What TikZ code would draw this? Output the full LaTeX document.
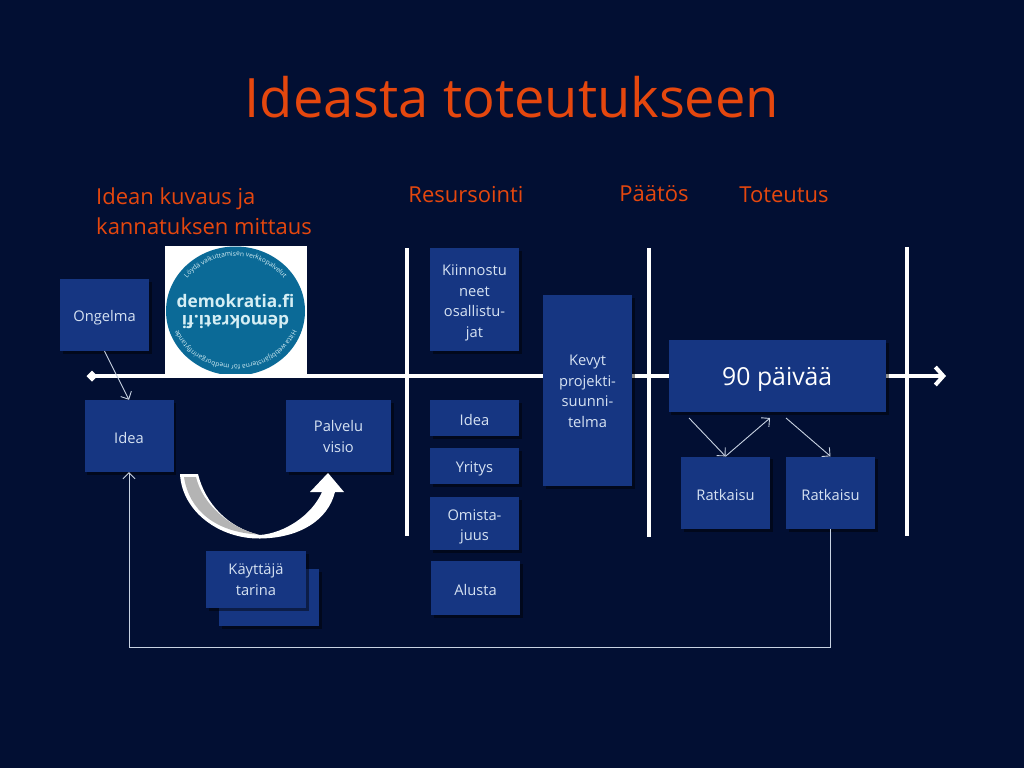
\documentclass[tikz,border=0pt]{standalone}
\usepackage{fontspec}
\setmainfont{Open Sans}
\newfontfamily\logofont{Open Sans}
\usepackage{xcolor}
\usetikzlibrary{arrows.meta,shadows,shapes.geometric,decorations.text}

\definecolor{bgcol}{HTML}{020F33}
\definecolor{boxcol}{HTML}{163682}
\definecolor{textcol}{HTML}{D6E2F2}
\definecolor{titlecol}{HTML}{E5470E}
\definecolor{linkcol}{HTML}{C8D2E2}
\definecolor{logocol}{HTML}{0B6A97}
\definecolor{logotext}{HTML}{D5EEF4}
\definecolor{bandcol}{HTML}{B4B4B4}

\newcommand{\boxlines}[2]{\begin{tabular}{@{}c@{}}\rule{0pt}{#1}#2\end{tabular}}

\begin{document}
\begin{tikzpicture}[x=1pt,y=-1pt,
  box/.style={fill=boxcol, text=textcol, inner sep=0pt, align=center, font=\fontsize{14.7}{20.5}\selectfont,
    execute at begin node={\rule{0pt}{16pt}},
    minimum width=89pt, drop shadow={shadow xshift=2.5pt, shadow yshift=-2.5pt, fill=black, opacity=0.45}},
  lift/.style={execute at begin node={\rule{0pt}{#1}}},
  heading/.style={text=titlecol, align=left, inner sep=0pt, font=\fontsize{22}{30}\selectfont},
  axis/.style={draw=white, line width=4pt},
  link/.style={draw=linkcol, line width=0.9pt, -{Straight Barb[length=6pt,width=12pt]}},
  arcword/.style={decorate, decoration={text along path, text align=center,
    text={|\logofont\fontsize{6.6}{7}\selectfont\color{logotext}|#1}}}]

\fill[bgcol] (0,0) rectangle (1024,768);
\useasboundingbox (0,0) rectangle (1024,768);

% headings
\node[text=titlecol, inner sep=0pt, font=\fontsize{54.3}{60}\selectfont] (title) at (512,97) {Ideasta toteutukseen};
\node[heading, anchor=west] (h1) at (96,211) {Idean kuvaus ja\\kannatuksen mittaus};
\node[heading] (h2) at (466,195) {Resursointi};
\node[heading] (h3) at (654,194) {Päätös};
\node[heading] (h4) at (784,195) {Toteutus};

% logo
\node[fill=white, minimum width=142pt, minimum height=130pt, inner sep=0pt] (logo) at (236,311) {};
\node[ellipse, fill=logocol, minimum width=139pt, minimum height=129pt, inner sep=0pt] (disc) at (235.5,311) {};
\node[text=logotext, inner sep=0pt, font=\logofont\bfseries\fontsize{17.3}{20}\selectfont] (logo1) at (235.5,301) {demokratia.fi};
\node[text=logotext, inner sep=0pt, rotate=180, font=\logofont\bfseries\fontsize{17.3}{20}\selectfont] (logo2) at (235.5,322) {demokrati.fi};
\path[arcword={Löydä vaikuttamisen verkkopalvelut}] (235.5,311) ++(205:60 and 55) arc[start angle=205, end angle=335, x radius=60, y radius=55];
\path[arcword={Hitta webbtjänsterna för medborgarinflytande}] (235.5,311) ++(8:61 and 54) arc[start angle=8, end angle=172, x radius=61, y radius=54];

% time line
\coordinate (s) at (92,376);
\coordinate (e) at (946,376);
\draw[axis, {Diamond[length=11pt,width=11pt,sep=-5.5pt]}-{Straight Barb[length=8pt,width=18pt]}] (s) -- (e);

\coordinate (v1a) at (407,248);
\coordinate (v1b) at (407,536);
\coordinate (v2a) at (649,248);
\coordinate (v2b) at (649,537);
\coordinate (v3a) at (907,247);
\coordinate (v3b) at (907,536);
\draw[axis] (v1a) -- (v1b);
\draw[axis] (v2a) -- (v2b);
\draw[axis] (v3a) -- (v3b);

% left part
\node[box, minimum height=72pt] (ongelma) at (104.5,315) {Ongelma};
\node[box, minimum height=72pt] (idea) at (129,436) {Idea};
\node[box, minimum width=105pt, minimum height=72pt] (visio) at (338.5,436) {\boxlines{18.4pt}{Palvelu\\visio}};
\node[box, minimum width=100pt, minimum height=57pt] (tarinab) at (269,597.5) {};
\node[box, minimum width=100pt, minimum height=57pt] (tarina) at (256,579.5) {\boxlines{17.4pt}{Käyttäjä\\tarina}};

% bent arrow
\fill[white] (180,474) .. controls (182,512) and (220,539) .. (260,538.5)
  .. controls (300,538) and (328,520) .. (335,492) -- (344,492) -- (328,473) -- (310,492) -- (322,492)
  .. controls (312,515) and (285,533) .. (260,535)
  .. controls (228,528) and (205,503) .. (198,474) -- cycle;
\fill[bandcol] (184,477) -- (196,477) .. controls (202,503) and (228,527) .. (258,534.5)
  .. controls (215,532) and (189,510) .. (184,477) -- cycle;

% middle part
\node[box, minimum height=103pt] (kiinn) at (474.5,299.5) {\boxlines{20.4pt}{Kiinnostu\\neet\\osallistu-\\jat}};
\node[box, minimum height=36pt] (idea2) at (474.5,418) {Idea};
\node[box, minimum height=36pt] (yritys) at (474.5,466) {Yritys};
\node[box, minimum height=53pt] (omist) at (474.5,523.5) {\boxlines{20.4pt}{Omista-\\juus}};
\node[box, minimum height=54pt] (alusta) at (475.5,588) {Alusta};
\node[box, minimum height=191pt] (kevyt) at (587.5,390.5) {\boxlines{18.4pt}{Kevyt\\projekti-\\suunni-\\telma}};

% right part
\node[box, lift=25pt, minimum width=217.5pt, minimum height=72pt, font=\fontsize{24.8}{30}\selectfont, text=white] (paivat) at (777.25,376) {90 päivää};
\node[box, minimum height=72.5pt] (ratk1) at (725.5,492.75) {Ratkaisu};
\node[box, minimum height=72.5pt] (ratk2) at (830.5,492.75) {Ratkaisu};

% connectors
\coordinate (p1) at (689,418);
\coordinate (p2) at (770,418);
\coordinate (p3) at (786,418);
\coordinate (fb1) at (830.5,647);
\coordinate (fb2) at (129,647);
\draw[link] (ongelma.south) -- (idea.north);
\draw[link] (p1) -- (ratk1.north);
\draw[link] (ratk1.north) -- (p2);
\draw[link] (p3) -- (ratk2.north);
\draw[link] (ratk2.south) -- (fb1) -- (fb2) -- (idea.south);

\end{tikzpicture}
\end{document}
